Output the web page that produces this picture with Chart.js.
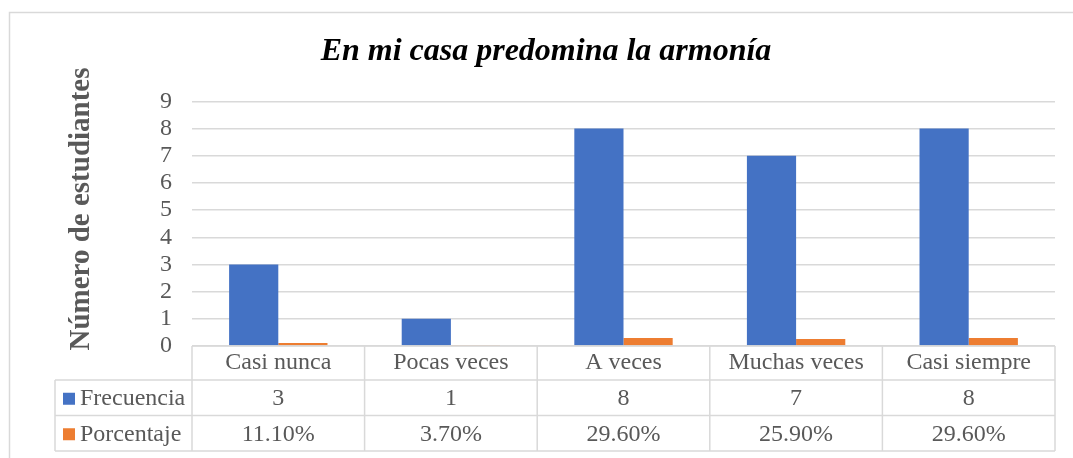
<!DOCTYPE html>
<html>
<head>
<meta charset="utf-8">
<script src="https://cdn.jsdelivr.net/npm/chart.js@4"></script>
<style>
  body { margin: 0; background: #fff; }
</style>
</head>
<body>
<canvas id="chart" width="1073" height="458"></canvas>
<script>
const categories = ['Casi nunca', 'Pocas veces', 'A veces', 'Muchas veces', 'Casi siempre']
const frecuencia = [3, 1, 8, 7, 8]
const porcentaje = [11.10, 3.70, 29.60, 25.90, 29.60]
const seriesNames = ['Frecuencia', 'Porcentaje']
const colors = ['#4472C4', '#ED7D31']
const yTicks = [0, 1, 2, 3, 4, 5, 6, 7, 8, 9]

const gray = '#595959'
const lineGray = '#d9d9d9'
const serif = '"Liberation Serif", "Times New Roman", serif'

// outer frame of the chart object
const frame = {
  id: 'frame',
  beforeDraw(chart) {
    const ctx = chart.ctx
    ctx.save()
    ctx.fillStyle = '#fff'
    ctx.fillRect(0, 0, chart.width, chart.height)
    ctx.strokeStyle = lineGray
    ctx.lineWidth = 1.5
    ctx.beginPath()
    ctx.moveTo(9.5, chart.height)
    ctx.lineTo(9.5, 12.5)
    ctx.lineTo(chart.width, 12.5)
    ctx.stroke()
    ctx.restore()
  }
}

// vertical axis title, placed like the original
const yTitle = {
  id: 'yTitle',
  afterDraw(chart) {
    const ctx = chart.ctx
    ctx.save()
    ctx.translate(82, 209)
    ctx.rotate(-Math.PI / 2)
    ctx.font = 'bold 29px ' + serif
    ctx.fillStyle = gray
    ctx.textAlign = 'center'
    ctx.textBaseline = 'middle'
    ctx.fillText('Número de estudiantes', 0, 0)
    ctx.restore()
  }
}

// data table under the x axis
const dataTable = {
  id: 'dataTable',
  afterDraw(chart) {
    const ctx = chart.ctx
    const x = chart.scales.x
    const area = chart.chartArea
    const catW = (x.right - x.left) / categories.length
    const headTop = area.bottom
    const headBottom = x.bottom
    const rowH = 35.5
    const legendLeft = 55
    const rows = [frecuencia.map(v => String(v)),
                  porcentaje.map(v => v.toFixed(2) + '%')]
    ctx.save()
    ctx.strokeStyle = lineGray
    ctx.lineWidth = 1.5
    ctx.beginPath()
    ctx.moveTo(x.left, headTop)
    ctx.lineTo(x.right, headTop)
    for (let r = 0; r <= rows.length; r++) {
      const y = headBottom + r * rowH
      ctx.moveTo(legendLeft, y)
      ctx.lineTo(x.right, y)
    }
    const tableBottom = headBottom + rows.length * rowH
    ctx.moveTo(legendLeft, headBottom)
    ctx.lineTo(legendLeft, tableBottom)
    for (let i = 0; i <= categories.length; i++) {
      const bx = x.left + i * catW
      ctx.moveTo(bx, headTop)
      ctx.lineTo(bx, tableBottom)
    }
    ctx.stroke()

    ctx.font = '24px ' + serif
    ctx.fillStyle = gray
    ctx.textBaseline = 'middle'
    rows.forEach((row, r) => {
      const cy = headBottom + r * rowH + rowH / 2 + 1
      ctx.fillStyle = colors[r]
      ctx.fillRect(63, cy - 6, 12, 12)
      ctx.fillStyle = gray
      ctx.textAlign = 'left'
      ctx.fillText(seriesNames[r], 80, cy)
      ctx.textAlign = 'center'
      row.forEach((txt, i) => {
        ctx.fillText(txt, x.getPixelForValue(i), cy)
      })
    })
    ctx.restore()
  }
}

new Chart(document.getElementById('chart'), {
  type: 'bar',
  data: {
    labels: categories,
    datasets: [
      { label: seriesNames[0], data: frecuencia, backgroundColor: colors[0] },
      { label: seriesNames[1], data: porcentaje.map(p => p / 100), backgroundColor: colors[1] }
    ]
  },
  options: {
    responsive: false,
    animation: false,
    layout: { padding: { left: 37, right: 18, top: 0, bottom: 78 } },
    datasets: { bar: { categoryPercentage: 0.57, barPercentage: 1 } },
    plugins: {
      legend: { display: false },
      tooltip: { enabled: false },
      title: {
        display: true,
        text: 'En mi casa predomina la armonía',
        color: '#000',
        font: { family: serif, size: 32, weight: 'bold', style: 'italic' },
        padding: { top: 33, bottom: 30 }
      }
    },
    scales: {
      x: {
        grid: { display: false },
        border: { display: false },
        ticks: { color: gray, font: { family: serif, size: 24 }, padding: -6, maxRotation: 0 },
        afterFit: s => { s.height = 34 }
      },
      y: {
        min: 0,
        max: yTicks[yTicks.length - 1],
        afterBuildTicks: s => { s.ticks = yTicks.map(v => ({ value: v })) },
        grid: { color: lineGray, lineWidth: 1.5, drawTicks: false },
        border: { display: false },
        ticks: { color: gray, font: { family: serif, size: 24 }, padding: 20, autoSkip: false },
        afterFit: s => { s.width = 155 }
      }
    }
  },
  plugins: [frame, yTitle, dataTable]
})
</script>
</body>
</html>
